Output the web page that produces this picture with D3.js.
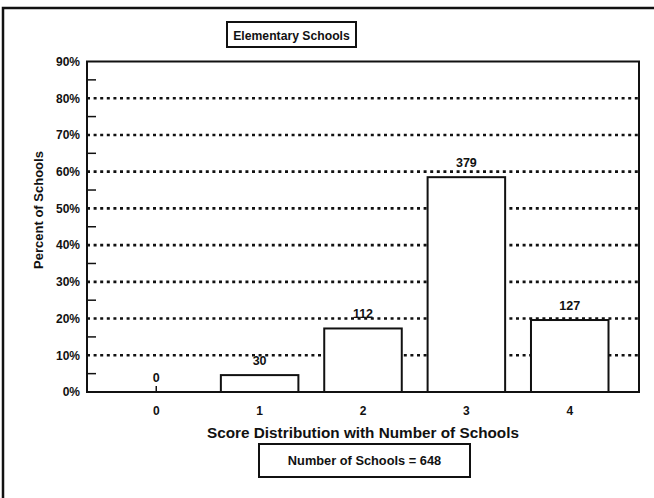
<!DOCTYPE html>
<html>
<head>
<meta charset="utf-8">
<script src="https://cdn.jsdelivr.net/npm/d3@7/dist/d3.min.js"></script>
<style>
  html, body { margin: 0; padding: 0; background: #fff; }
  svg { display: block; font-family: "Liberation Sans", Arial, sans-serif; }
</style>
</head>
<body>
<script>
// ---- data ----
const categories = ["0", "1", "2", "3", "4"];
const schoolCounts = [0, 30, 112, 379, 127];
const percentValues = [0, 4.6, 17.3, 58.5, 19.6];
const yTickValues = [0, 10, 20, 30, 40, 50, 60, 70, 80, 90];
const yMinorTicks = [5, 15, 25, 35, 45, 55, 65, 75, 85];
const gridValues = [10, 20, 30, 40, 50, 60, 70, 80];
const chartTitle = "Elementary Schools";
const xTitle = "Score Distribution with Number of Schools";
const yTitle = "Percent of Schools";
const footerText = "Number of Schools = 648";

const W = 654, H = 498;
const plot = { left: 87, right: 639, top: 61.5, bottom: 392 };

const svg = d3.select("body").append("svg").attr("width", W).attr("height", H);

// outer frame
svg.append("rect")
  .attr("x", 3).attr("y", 8).attr("width", W + 10).attr("height", H + 10)
  .attr("fill", "none").attr("stroke", "#111").attr("stroke-width", 2.5);

const x = d3.scaleBand().domain(categories)
  .range([plot.left, plot.right]).paddingInner(0.25).paddingOuter(0.295);
const y = d3.scaleLinear().domain([0, 90]).range([plot.bottom, plot.top]);

// gridlines
svg.append("g").selectAll("line").data(gridValues).join("line")
  .attr("x1", plot.left).attr("x2", plot.right)
  .attr("y1", d => y(d)).attr("y2", d => y(d))
  .attr("stroke", "#111").attr("stroke-width", 2.6)
  .attr("stroke-dasharray", "3,3.6");

// x ticks (inward, mostly hidden by bars)
svg.append("g").selectAll("line").data(categories).join("line")
  .attr("x1", d => x(d) + x.bandwidth() / 2).attr("x2", d => x(d) + x.bandwidth() / 2)
  .attr("y1", plot.bottom).attr("y2", plot.bottom - 6)
  .attr("stroke", "#111").attr("stroke-width", 1.5);

// bars
svg.append("g").selectAll("rect").data(categories.filter((c, i) => percentValues[i] > 0)).join("rect")
  .attr("x", d => x(d))
  .attr("width", x.bandwidth())
  .attr("y", d => y(percentValues[categories.indexOf(d)]))
  .attr("height", d => plot.bottom - y(percentValues[categories.indexOf(d)]))
  .attr("fill", "#fff").attr("stroke", "#111").attr("stroke-width", 2);

// value labels
svg.append("g").selectAll("text").data(categories).join("text")
  .attr("x", d => x(d) + x.bandwidth() / 2)
  .attr("y", (d, i) => y(percentValues[i]) - 10)
  .attr("text-anchor", "middle")
  .attr("font-size", 12.5).attr("font-weight", "bold").attr("fill", "#111")
  .text((d, i) => schoolCounts[i]);

// y axis (left) with inward ticks
const yAxis = d3.axisLeft(y).tickValues(yTickValues).tickSize(0).tickPadding(7)
  .tickFormat(d => d + "%");
const gy = svg.append("g").attr("transform", `translate(${plot.left},0)`).call(yAxis);
gy.select(".domain").remove();
gy.selectAll("text").attr("font-size", 12).attr("font-weight", "bold")
  .attr("font-family", "'Liberation Sans', Arial, sans-serif").attr("fill", "#111");

svg.append("g").selectAll("line").data(yMinorTicks).join("line")
  .attr("x1", plot.left).attr("x2", plot.left + 9)
  .attr("y1", d => y(d)).attr("y2", d => y(d))
  .attr("stroke", "#111").attr("stroke-width", 1.5);

// x axis labels
const xAxis = d3.axisBottom(x).tickSize(0).tickPadding(14);
const gx = svg.append("g").attr("transform", `translate(0,${plot.bottom})`).call(xAxis);
gx.select(".domain").remove();
gx.selectAll("text").attr("font-size", 12).attr("font-weight", "bold")
  .attr("font-family", "'Liberation Sans', Arial, sans-serif").attr("fill", "#111");

// plot frame
svg.append("rect")
  .attr("x", plot.left).attr("y", plot.top)
  .attr("width", plot.right - plot.left).attr("height", plot.bottom - plot.top)
  .attr("fill", "none").attr("stroke", "#111").attr("stroke-width", 2);

// title box
const tb = { x: 227, y: 22, w: 129, h: 25 };
svg.append("rect").attr("x", tb.x).attr("y", tb.y).attr("width", tb.w).attr("height", tb.h)
  .attr("fill", "#fff").attr("stroke", "#111").attr("stroke-width", 2);
svg.append("text").attr("x", tb.x + tb.w / 2).attr("y", tb.y + 17.5)
  .attr("text-anchor", "middle").attr("font-size", 12.2).attr("font-weight", "bold")
  .attr("fill", "#111").text(chartTitle);

// y title
svg.append("text")
  .attr("transform", `translate(43,210) rotate(-90)`)
  .attr("text-anchor", "middle").attr("font-size", 13).attr("font-weight", "bold")
  .attr("fill", "#111").text(yTitle);

// x title
svg.append("text").attr("x", (plot.left + plot.right) / 2).attr("y", 438)
  .attr("text-anchor", "middle").attr("font-size", 15.3).attr("font-weight", "bold")
  .attr("fill", "#111").text(xTitle);

// footer box
const fb = { x: 259, y: 444, w: 211, h: 33 };
svg.append("rect").attr("x", fb.x).attr("y", fb.y).attr("width", fb.w).attr("height", fb.h)
  .attr("fill", "#fff").attr("stroke", "#111").attr("stroke-width", 2);
svg.append("text").attr("x", fb.x + fb.w / 2).attr("y", fb.y + 21)
  .attr("text-anchor", "middle").attr("font-size", 12.8).attr("font-weight", "bold")
  .attr("fill", "#111").text(footerText);
</script>
</body>
</html>
